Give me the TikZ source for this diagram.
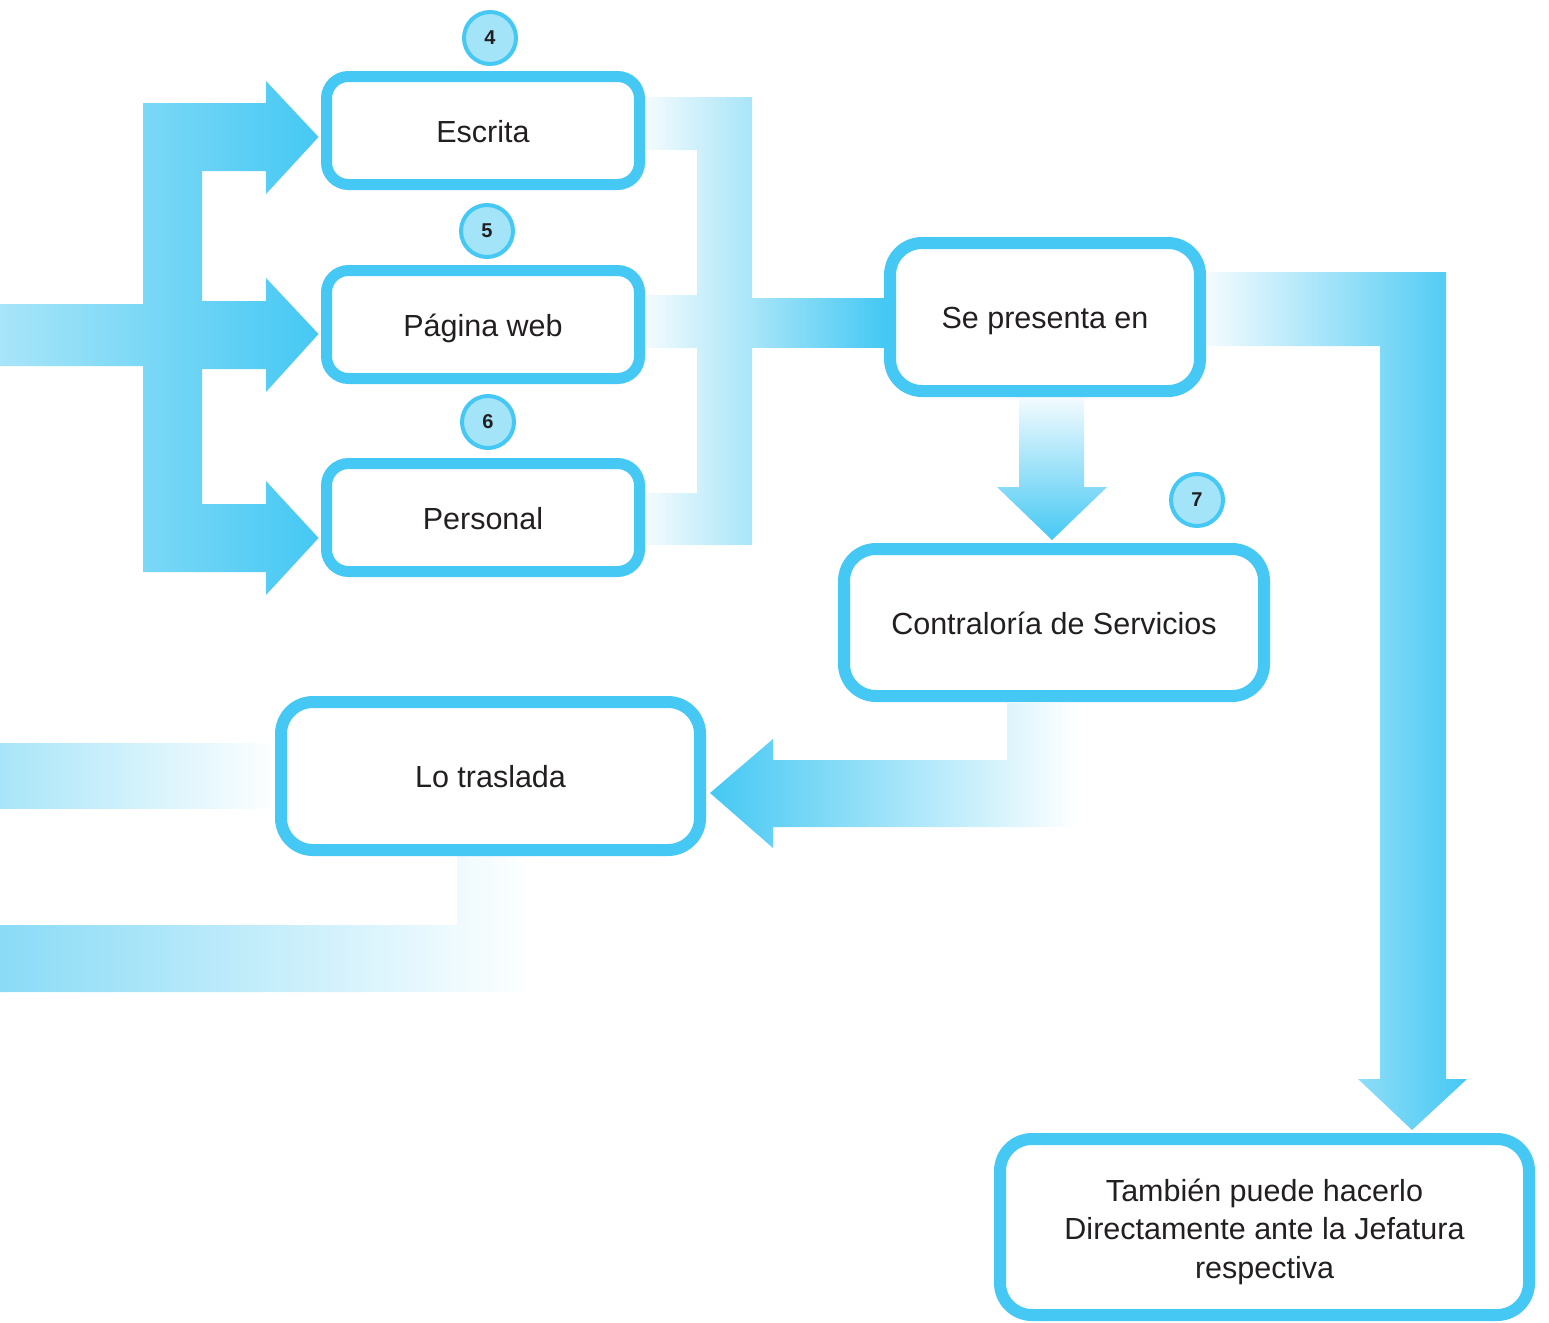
\documentclass[tikz,border=0pt]{standalone}
\usepackage{fontspec}
\setmainfont{Liberation Sans}
\usetikzlibrary{calc}
\pgfdeclarelayer{bg}
\pgfsetlayers{bg,main}

\definecolor{sky}{HTML}{45C8F3}
\definecolor{skylt}{HTML}{A8E5F8}
\definecolor{skymid}{HTML}{8ADBF6}
\definecolor{mist}{HTML}{F4FBFE}
\definecolor{badgefill}{HTML}{A3E4F8}
\definecolor{ink}{HTML}{231F20}

\begin{document}
\begin{tikzpicture}[x=1pt,y=-1pt,
  box/.style={draw=sky, line width=11pt, fill=white, rounded corners=22pt,
    inner sep=0pt, text=ink, align=center, text height=24pt, text depth=1pt,
    font=\fontsize{30.5}{38.5}\selectfont},
  bigbox/.style={box, line width=12pt, rounded corners=32pt},
  badge/.style={circle, draw=sky, line width=4pt, fill=badgefill,
    minimum size=52pt, inner sep=0pt, text=ink,
    font=\bfseries\fontsize{20}{20}\selectfont},
  fat/.style={shading=axis},
]
\useasboundingbox (0,0) rectangle (1549,1322);

% channels
\node[box, minimum width=313pt, minimum height=108pt] (esc) at (483,130.5) {Escrita};
\node[box, minimum width=313pt, minimum height=108pt] (pag) at (483,324.5) {Página web};
\node[box, minimum width=313pt, minimum height=108pt] (per) at (483,517.5) {Personal};

% badges
\node[badge] (b4) at (490,38) {4};
\node[badge] (b5) at (487,231) {5};
\node[badge] (b6) at (488,422) {6};
\node[badge] (b7) at (1197,500) {7};

% main steps
\node[bigbox, minimum width=310pt, minimum height=148pt] (sep) at (1045,317) {Se presenta en};
\node[bigbox, minimum width=420pt, minimum height=147pt] (con) at (1054,622.5) {Contraloría de Servicios};
\node[bigbox, minimum width=419pt, minimum height=148pt] (lot) at (490.5,776) {Lo traslada};
\node[bigbox, minimum width=529pt, minimum height=176pt, text height=, text depth=] (tam) at (1264.5,1227)
  {\raisebox{-5pt}[\height][\depth]{\begin{tabular}{@{}c@{}}También puede hacerlo\\Directamente ante la Jefatura\\respectiva\end{tabular}}};

% arrow tips
\coordinate (tEsc) at ([xshift=-2.5pt,yshift=-6.5pt]esc.west);
\coordinate (tPag) at ([xshift=-2.5pt,yshift=-9.5pt]pag.west);
\coordinate (tPer) at ([xshift=-2.5pt,yshift=-20.5pt]per.west);
\coordinate (tCon) at ([xshift=-2pt,yshift=3pt]con.north);
\coordinate (tLot) at ([xshift=4pt,yshift=-17pt]lot.east);
\coordinate (tTam) at ([xshift=147.5pt,yshift=3pt]tam.north);

\begin{pgfonlayer}{bg}
% incoming fan to the three channels
\shade[fat, left color=skylt, right color=sky]
  (0,304) -- (143,304) -- (143,103) -- (266,103) -- (266,81) -- (tEsc)
  -- (266,194) -- (266,171) -- (202,171) -- (202,301) -- (266,301)
  -- (266,278) -- (tPag) -- (266,392) -- (266,369) -- (202,369)
  -- (202,504) -- (266,504) -- (266,481) -- (tPer) -- (266,595)
  -- (266,572) -- (143,572) -- (143,366) -- (0,366) -- cycle;

% channels gathered into one
\shade[fat, left color=mist, right color=skylt]
  (645,97) -- (752,97) -- (752,545) -- (645,545) -- (645,493) -- (697,493)
  -- (697,348) -- (645,348) -- (645,295) -- (697,295) -- (697,150)
  -- (645,150) -- cycle;
\shade[fat, left color=skylt, right color=sky]
  (752,298) -- (sep.west |- 0,298) -- (sep.west |- 0,347) -- (752,347) -- cycle;

% Se presenta en -> Contraloría
\shade[fat, top color=mist, bottom color=sky]
  (1019,397) -- (1084,397) -- (1084,487) -- (1107,487) -- (tCon)
  -- (997,487) -- (1019,487) -- cycle;

% Se presenta en -> Jefatura
\shade[fat, left color=mist, right color=sky]
  (1207,272) -- (1446,272) -- (1446,1079) -- (1467,1079) -- (tTam)
  -- (1358,1079) -- (1380,1079) -- (1380,346) -- (1207,346) -- cycle;

% Contraloría -> Lo traslada
\shade[fat, left color=sky, right color=white]
  (tLot) -- (773,739) -- (773,760) -- (1007,760) -- (1007,703)
  -- (1077,703) -- (1077,827) -- (773,827) -- (773,848) -- cycle;

% outgoing from Lo traslada
\shade[fat, left color=skylt, right color=white]
  (0,743) -- (280,743) -- (280,808) -- (0,808) -- cycle;
\shade[fat, left color=skymid, right color=white]
  (0,925) -- (457,925) -- (457,856) -- (532,856) -- (532,992)
  -- (0,992) -- cycle;
\end{pgfonlayer}
\end{tikzpicture}
\end{document}
